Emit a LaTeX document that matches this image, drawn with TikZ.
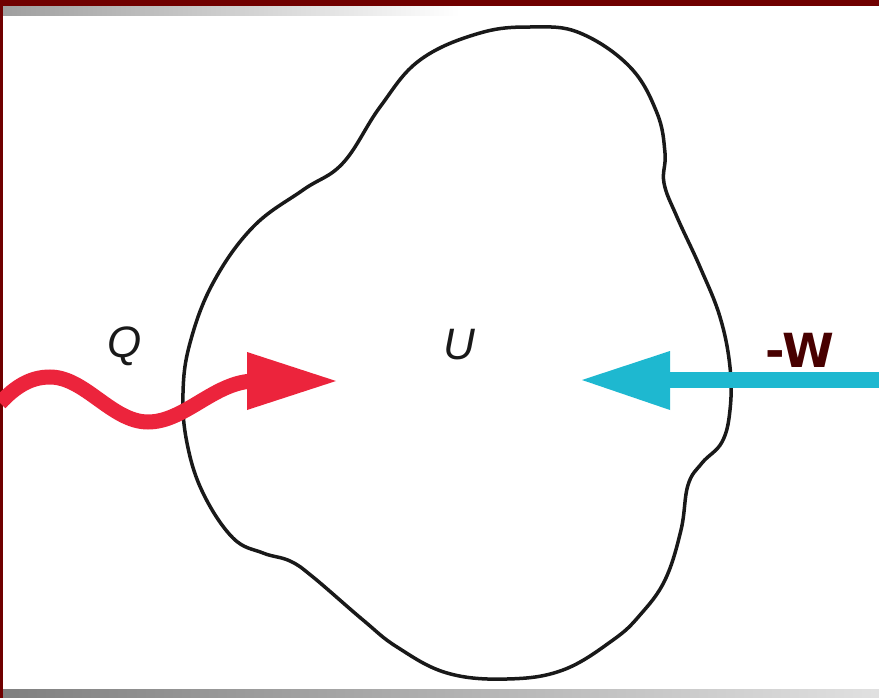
\documentclass[tikz,border=0pt]{standalone}
\usepackage{fontspec}
\setmainfont{Liberation Sans}
\newfontfamily\wfont{DejaVu Sans}
\definecolor{framered}{RGB}{112,0,0}
\definecolor{heatred}{RGB}{236,36,60}
\definecolor{workcyan}{RGB}{30,184,208}
\definecolor{labelred}{RGB}{72,0,0}
\tikzset{
  varlabel/.style={inner sep=0pt, anchor=base, font=\itshape\fontsize{44}{44}\selectfont, text=black!90},
  boundary/.style={line width=3.5pt, black!90},
}
\begin{document}
\begin{tikzpicture}[x=1pt,y=-1pt]
\useasboundingbox (0,0) rectangle (879,698);
\fill[white] (0,0) rectangle (879,698);
% frame
\shade[left color=black!38, right color=white] (0,6) rectangle (460,16);
\fill[framered] (0,0) rectangle (879,6);
\shade[left color=black!50, right color=black!12] (0,689) rectangle (879,698);
\fill[framered] (0,0) rectangle (3,698);
% system boundary
\draw[boundary] plot[smooth cycle, tension=0.65] coordinates {
 (533,27) (580,33) (630,67) (657,113) (665,153) (664,183) (677,217) (700,267)
 (720,317) (730,367) (730,410) (722,442) (702,463) (688,485) (681,530) (665,580)
 (640,615) (613,640) (563,670) (507,679) (447,673) (397,647) (363,620) (313,577)
 (290,561) (263,553) (233,538) (203,493) (187,443) (183,393) (190,343) (213,283)
 (253,227) (303,190) (343,163) (380,107) (420,60) (480,33)};
% heat arrow
\coordinate (qs) at (0,403);
\coordinate (qb) at (255,381);
\node[inner sep=0pt] (qtip) at (336,381) {};
\draw[heatred, line width=15pt] (qs) .. controls (15,387) and (30,377) .. (50,377)
  .. controls (85,377) and (112,422) .. (148,422)
  .. controls (185,422) and (215,381) .. (qb);
\fill[heatred] (247,352) -- (qtip.center) -- (247,410) -- cycle;
% work arrow
\coordinate (ws) at (879,380);
\node[inner sep=0pt] (wtip) at (582,380) {};
\draw[workcyan, line width=16pt] (ws) -- (668,380);
\fill[workcyan] (670,351) -- (wtip.center) -- (670,410) -- cycle;
% labels
\node[varlabel] (Q) at (125,357) {Q};
\node[varlabel] (U) at (459,359) {U};
\node[inner sep=0pt, anchor=base, font=\wfont\bfseries\fontsize{47}{47}\selectfont, text=labelred] (W) at (800,367) {-W};
\end{tikzpicture}
\end{document}
